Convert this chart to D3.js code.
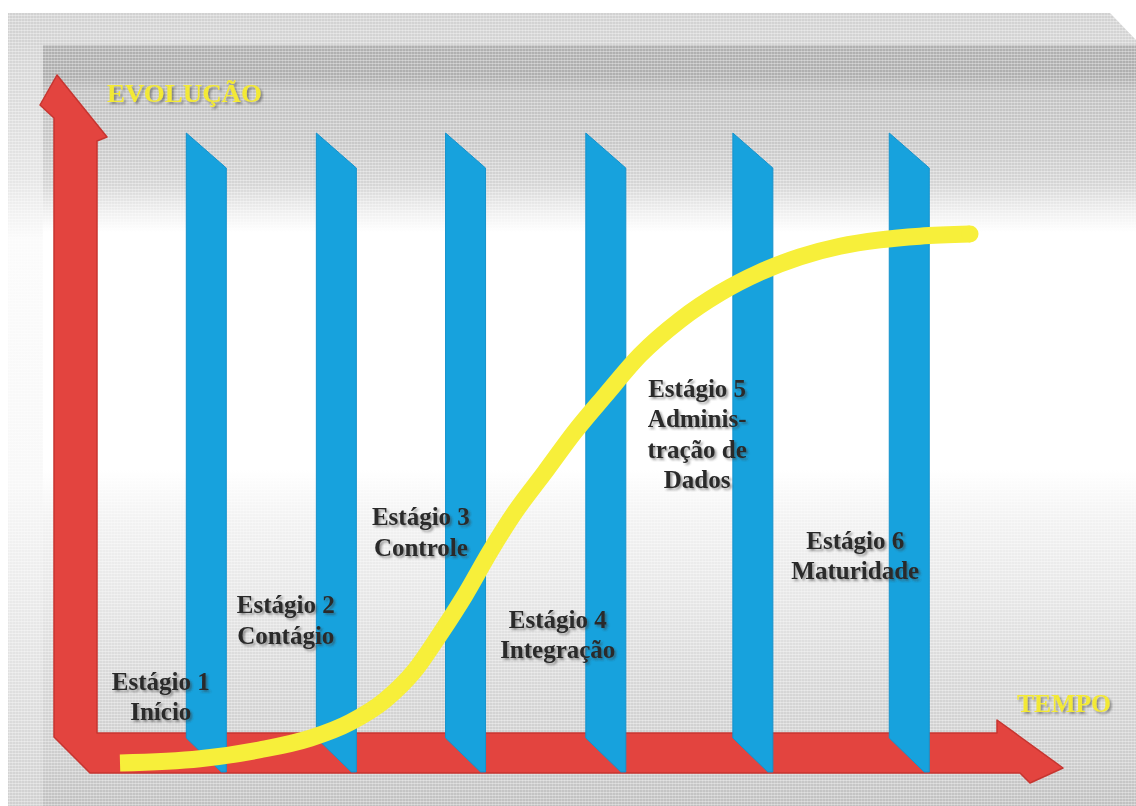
<!DOCTYPE html>
<html>
<head>
<meta charset="utf-8">
<script src="https://cdn.jsdelivr.net/npm/d3@7"></script>
<style>
  body { margin: 0; background: #fff; }
  svg { display: block; }
</style>
</head>
<body>
<svg id="chart" width="1136" height="806"></svg>
<script>
// ---------------- DATA ----------------
const stageLabels = [
  ["Estágio 1", "Início"],
  ["Estágio 2", "Contágio"],
  ["Estágio 3", "Controle"],
  ["Estágio 4", "Integração"],
  ["Estágio 5", "Adminis-", "tração de", "Dados"],
  ["Estágio 6", "Maturidade"]
];
// Where each stage panel stands on the time axis (0..100)
const panelTime = [7.8, 23.1, 38.3, 54.8, 72.1, 90.5];
// Anchor of each stage label in (time, evolution) units
const labelTime = [4.8, 19.5, 35.4, 51.5, 67.9, 86.5];
const labelEvolution = [13.8, 28.3, 44.9, 25.5, 69.1, 40.4];
// The S curve (time vs evolution)
const curveTime =      [0, 9.4, 16.5, 22.4, 27.1, 31.2, 34.7, 37.6, 40.6, 43.5, 46.5, 50.0, 53.5, 57.1, 61.2, 65.9, 70.6, 75.3, 80.0, 84.7, 89.4, 94.1, 100];
const curveEvolution = [0, 0.8, 2.5,  4.7,  7.7,  11.9, 17.5, 24.2, 31.7, 39.8, 47.4, 54.9, 62.5, 69.4, 77.0, 83.6, 88.7, 92.6, 95.5, 97.5, 98.7, 99.4, 99.8];
const axisTitleY = "EVOLUÇÃO";
const axisTitleX = "TEMPO";

// ---------------- LAYOUT ----------------
const W = 1136, H = 806;
const svg = d3.select("#chart");
const x = d3.scaleLinear().domain([0, 100]).range([120, 970]);
const y = d3.scaleLinear().domain([0, 100]).range([763, 233]);

const defs = svg.append("defs");

const frameGrad = defs.append("linearGradient").attr("id", "frameGrad")
  .attr("gradientUnits", "userSpaceOnUse").attr("x1", 0).attr("y1", 13).attr("x2", 0).attr("y2", 806);
[[13, "#d2d2d2"], [45, "#d4d4d4"], [180, "#e6e6e6"], [240, "#fbfbfb"], [480, "#f8f8f8"], [650, "#e4e4e4"], [806, "#d0d0d0"]]
  .forEach(([o, c]) => frameGrad.append("stop").attr("offset", ((o - 13) / 793)).attr("stop-color", c));

const bgGrad = defs.append("linearGradient").attr("id", "bgGrad")
  .attr("gradientUnits", "userSpaceOnUse").attr("x1", 0).attr("y1", 45).attr("x2", 0).attr("y2", 806);
[[45, "#b0b0b0"], [76, "#afafaf"], [92, "#c2c2c2"], [140, "#c8c8c8"], [185, "#d6d6d6"], [210, "#eeeeee"], [232, "#ffffff"],
 [470, "#ffffff"], [520, "#f2f2f2"], [600, "#e6e6e6"], [690, "#d6d6d6"], [760, "#cdcdcd"], [806, "#c0c0c0"]]
  .forEach(([o, c]) => bgGrad.append("stop").attr("offset", ((o - 45) / 761)).attr("stop-color", c));

const pat = defs.append("pattern").attr("id", "dither").attr("patternUnits", "userSpaceOnUse")
  .attr("width", 3).attr("height", 3);
pat.append("rect").attr("x", 0).attr("y", 0).attr("width", 3).attr("height", 1).attr("fill", "#fff").attr("opacity", 0.35);
pat.append("rect").attr("x", 0).attr("y", 0).attr("width", 1).attr("height", 3).attr("fill", "#fff").attr("opacity", 0.2);

const sh = defs.append("filter").attr("id", "shadow").attr("x", "-10%").attr("y", "-20%").attr("width", "130%").attr("height", "150%");
sh.append("feGaussianBlur").attr("in", "SourceAlpha").attr("stdDeviation", 1.1).attr("result", "b");
sh.append("feOffset").attr("in", "b").attr("dx", 1.5).attr("dy", 1.5).attr("result", "o");
sh.append("feFlood").attr("flood-color", "#3a3a3a").attr("flood-opacity", 0.5).attr("result", "f");
sh.append("feComposite").attr("in", "f").attr("in2", "o").attr("operator", "in").attr("result", "s");
const m = sh.append("feMerge");
m.append("feMergeNode").attr("in", "s");
m.append("feMergeNode").attr("in", "SourceGraphic");

// background
svg.append("polygon")
  .attr("points", [[8, 13], [1110, 13], [1136, 40], [1136, 806], [8, 806]].join(" "))
  .attr("fill", "url(#frameGrad)");
svg.append("polygon")
  .attr("points", [[43, 45], [1136, 45], [1136, 806], [43, 806]].join(" "))
  .attr("fill", "url(#bgGrad)");
svg.append("polygon")
  .attr("points", [[8, 13], [1110, 13], [1136, 40], [1136, 806], [8, 806]].join(" "))
  .attr("fill", "url(#dither)");

// ---------------- AXES (red L arrow) ----------------
const axL = 54, axR = 97;
const axT = 733, axB = 773;
const arrowPts = [
  [57, 75], [107, 137], [axR, 141], [axR, axT],
  [997, axT], [997, 720], [1063, 768], [1030, 783], [1020, axB],
  [90, axB], [axL, 737], [axL, 118], [40, 105]
];
svg.append("polygon")
  .attr("points", arrowPts.join(" "))
  .attr("fill", "#e3443f")
  .attr("stroke", "#c73530")
  .attr("stroke-width", 1.5)
  .attr("stroke-linejoin", "round");

// ---------------- STAGE PANELS ----------------
const panelW = 40, panelTop = 133, panelSlant = 35;
svg.append("g").selectAll("polygon")
  .data(panelTime)
  .join("polygon")
  .attr("points", t => {
    const x0 = x(t), x1 = x(t) + panelW;
    return [[x0, panelTop], [x1, panelTop + panelSlant], [x1, axB - 1], [x1 - 5, axB - 1], [x0, 738]].join(" ");
  })
  .attr("fill", "#17a2dd")
  .attr("stroke", "#1592cc")
  .attr("stroke-width", 1);

// ---------------- S CURVE ----------------
const pts = curveTime.map((t, i) => [t, curveEvolution[i]]);
const line = d3.line().x(d => x(d[0])).y(d => y(d[1])).curve(d3.curveMonotoneX);
svg.append("path")
  .attr("d", line(pts))
  .attr("fill", "none")
  .attr("stroke", "#f7ef3a")
  .attr("stroke-width", 17)
  .attr("stroke-linecap", "butt");
// rounded end of the stroke
const last = pts[pts.length - 1];
svg.append("circle")
  .attr("cx", x(last[0])).attr("cy", y(last[1])).attr("r", 8.5)
  .attr("fill", "#f7ef3a");

// ---------------- LABELS ----------------
const lineGap = 30.5;
const lab = svg.append("g")
  .attr("font-family", "'Liberation Serif', 'Times New Roman', serif")
  .attr("font-weight", "bold")
  .attr("font-size", 25)
  .attr("fill", "#2b2b2b")
  .attr("text-anchor", "middle")
  .attr("filter", "url(#shadow)");
stageLabels.forEach((lines, i) => {
  const t = lab.append("text")
    .attr("x", x(labelTime[i]))
    .attr("y", y(labelEvolution[i]));
  lines.forEach((s, j) => {
    t.append("tspan").attr("x", x(labelTime[i])).attr("dy", j === 0 ? 0 : lineGap).text(s);
  });
});

const titles = svg.append("g")
  .attr("font-family", "'Liberation Serif', 'Times New Roman', serif")
  .attr("font-weight", "bold")
  .attr("font-size", 26)
  .attr("fill", "#f3e936")
  .attr("filter", "url(#shadow)");
titles.append("text").attr("x", 107).attr("y", 102).attr("textLength", 155).attr("lengthAdjust", "spacingAndGlyphs").text(axisTitleY);
titles.append("text").attr("x", 1017).attr("y", 712).attr("textLength", 94).attr("lengthAdjust", "spacingAndGlyphs").text(axisTitleX);
</script>
</body>
</html>
